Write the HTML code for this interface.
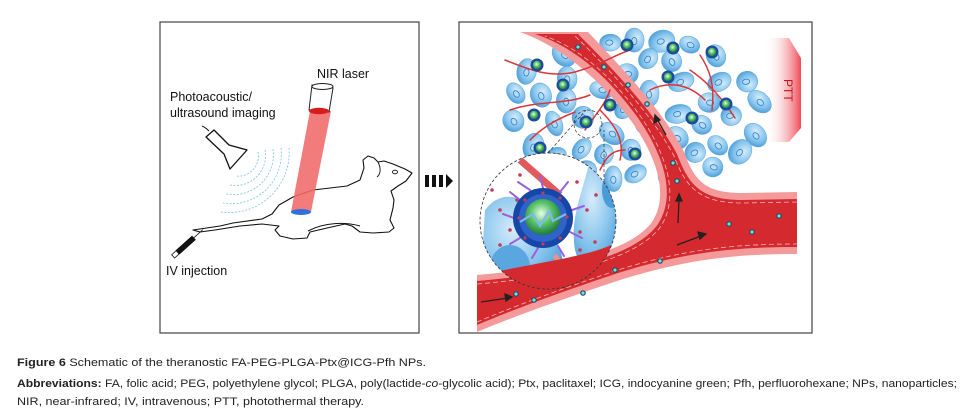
<!DOCTYPE html>
<html><head><meta charset="utf-8"><style>
html,body{margin:0;padding:0;background:#fff;}
svg{display:block}
</style></head><body>
<svg id="s" width="963" height="415" viewBox="0 0 963 415" xmlns="http://www.w3.org/2000/svg">
<defs>
<radialGradient id="cell" cx="40%" cy="35%" r="70%"><stop offset="0" stop-color="#d6ecfb"/><stop offset="0.6" stop-color="#86c4ec"/><stop offset="1" stop-color="#4a9bd8"/></radialGradient>
<radialGradient id="np" cx="45%" cy="40%" r="60%"><stop offset="0" stop-color="#e8ffe8"/><stop offset="0.5" stop-color="#5cc46a"/><stop offset="1" stop-color="#1f7a3a"/></radialGradient>
<linearGradient id="ptt" x1="0" x2="1"><stop offset="0" stop-color="#fff" stop-opacity="0"/><stop offset="1" stop-color="#ef4b55"/></linearGradient>
<clipPath id="mag"><circle cx="548" cy="221" r="68"/></clipPath>
<clipPath id="box"><rect x="460" y="23" width="351" height="309"/></clipPath>
</defs>
<rect width="963" height="415" fill="#fff"/>
<!-- left panel -->
<rect x="160" y="22" width="259" height="311" fill="#fff" stroke="#444" stroke-width="1.2"/>
<text x="317" y="78" font-family="Liberation Sans,sans-serif" font-size="12.5" fill="#111">NIR laser</text>
<text x="170" y="101" font-family="Liberation Sans,sans-serif" font-size="12.5" fill="#111">Photoacoustic/</text>
<text x="170" y="117" font-family="Liberation Sans,sans-serif" font-size="12.5" fill="#111">ultrasound imaging</text>
<text x="166" y="275" font-family="Liberation Sans,sans-serif" font-size="12.5" fill="#111">IV injection</text>
<g fill="none" stroke="#7fc3d8" stroke-width="0.8" stroke-dasharray="2,1.5">
<path d="M258,152 A20,20 0 0 1 236,176"/>
<path d="M265,150 A30,30 0 0 1 230,185"/>
<path d="M273,149 A40,40 0 0 1 226,194"/>
<path d="M281,148 A50,50 0 0 1 223,203"/>
<path d="M289,148 A60,60 0 0 1 221,212"/>
</g>
<path d="M202,126 C205,127 207,129 209,131" fill="none" stroke="#111" stroke-width="1"/>
<path d="M206,137 L214,130 L229,145 L247,150 L230,169 L224,154 Z" fill="#fff" stroke="#111" stroke-width="1.3" stroke-linejoin="round"/>
<path d="M193,230 L220,226 L233,223 L262,219 L272,214 L279,205 L293,197 L313,190 L347,186 L360,180 L364,168 L363,160 L368,156 L374,158 L378,162 L384,161 L393,164 L405,169 L412,173 L406,181 L398,186 L391,191 L394,200 L393,208 L390,220 L394,228 L389,232 L373,233 L360,232 L352,226 L345,224 L327,228 L310,232 L307,238 L293,239 L280,236 L275,230 L279,226 L262,224 L240,226 L215,230 L200,232 Z" fill="none" stroke="#111" stroke-width="1.1" stroke-linejoin="round"/>
<path d="M308,231 C325,222 345,222 360,226" fill="none" stroke="#111" stroke-width="1"/>
<ellipse cx="395" cy="172" rx="2.5" ry="1.8" fill="none" stroke="#111" stroke-width="0.9"/>
<path d="M378,162 C381,168 381,174 377,177" fill="none" stroke="#111" stroke-width="0.9"/>
<polygon points="310,111 331,111 311,212 291,212" fill="#f06a6a" opacity="0.88"/>
<path d="M312,85 L333,88 L329,112 L309,110 Z" fill="#fff" stroke="#222" stroke-width="1"/>
<ellipse cx="322.5" cy="86.5" rx="10.5" ry="3" fill="#fff" stroke="#222" stroke-width="1"/>
<ellipse cx="319" cy="111" rx="10" ry="3.2" fill="#d81b1b"/>
<ellipse cx="301" cy="212" rx="10" ry="3" fill="#2f6fe0"/>
<g transform="translate(188,243) rotate(-42)">
<rect x="-14" y="-2.8" width="22" height="5.6" fill="#111"/>
<rect x="-20" y="-2.2" width="6" height="4.4" fill="#fff" stroke="#111" stroke-width="0.8"/>
<line x1="8" y1="0" x2="20" y2="0" stroke="#111" stroke-width="0.8"/>
</g>
<rect x="425" y="175" width="4" height="12" fill="#111"/>
<rect x="432" y="175" width="4" height="12" fill="#111"/>
<rect x="439" y="175" width="4" height="12" fill="#111"/>
<polygon points="446,174 453,181 446,188" fill="#111"/>
<!-- right panel -->
<rect x="459" y="22" width="353" height="311" fill="#fff" stroke="#444" stroke-width="1.2"/>
<polygon points="765,38 789,38 801,58 801,128 789,142 765,142" fill="url(#ptt)"/>
<text transform="translate(784,79) rotate(90)" font-family="Liberation Sans,sans-serif" font-size="12" fill="#c0141e">PTT</text>
<g clip-path="url(#box)">
<g id="cells"></g>
<path d="M477,275 C560,268 630,252 652,222 C668,198 660,162 632,122 C604,84 565,48 520,32 L588,32 C622,68 664,112 684,152 C694,178 702,193 742,193 L797,192 L797,254 C740,254 690,258 620,280 C560,300 510,318 477,332 Z" fill="#f49a9a"/>
<path d="M477,281 C562,274 636,256 658,224 C675,198 667,160 638,118 C612,82 578,48 535,34 L578,34 C614,70 656,114 677,154 C688,182 698,200 742,200 L797,199 L797,247 C740,247 688,251 618,273 C558,293 510,311 477,325 Z" fill="#d42a2f"/>
<g fill="none" stroke="#f6b3b3" stroke-width="0.8" stroke-dasharray="5,3">
<path d="M477,284 C562,277 638,259 661,226 C678,199 670,160 641,117 C616,82 584,50 545,36"/>
<path d="M797,202 L742,203 C696,203 685,184 674,156 C653,116 612,72 575,36"/>
<path d="M477,322 C510,308 558,290 618,270 C688,248 740,244 797,244"/>
</g>
</g>
<g fill="none" stroke="#d9363c" stroke-width="1.5" stroke-linecap="round">
<path d="M505,60 C530,70 550,78 575,72 C600,65 615,55 630,50"/>
<path d="M510,110 C540,100 565,105 590,95"/>
<path d="M585,130 C595,115 605,105 610,90"/>
<path d="M620,160 C625,140 615,125 600,110"/>
<path d="M690,70 C705,80 720,95 735,118"/>
<path d="M700,55 C710,70 715,85 712,110"/>
<path d="M650,90 C670,80 690,85 705,100"/>
<path d="M530,140 C545,125 560,118 575,112"/>
<path d="M600,170 C605,160 610,150 625,150"/>
</g>
<g id="nps"></g>
<g id="dots"></g>
<g stroke="#222" stroke-width="1.3" fill="#222">
<line x1="481" y1="302" x2="508" y2="298"/><polygon points="512,297 505,294 506,301"/>
<line x1="677" y1="245" x2="701" y2="236"/><polygon points="706,234 698,232 700,239"/>
<line x1="678" y1="223" x2="679" y2="199"/><polygon points="679,194 676,201 682,201"/>
<line x1="666" y1="135" x2="657" y2="119"/><polygon points="655,115 654,123 660,120"/>
</g>
<line x1="548" y1="153" x2="586" y2="110" stroke="#333" stroke-width="0.7" stroke-dasharray="3,2"/>
<line x1="604" y1="182" x2="604" y2="130" stroke="#333" stroke-width="0.7" stroke-dasharray="3,2"/>
<circle cx="588" cy="124" r="14" fill="none" stroke="#333" stroke-width="0.7" stroke-dasharray="3,2"/>
<g clip-path="url(#mag)">
<circle cx="548" cy="221" r="68" fill="#fff"/>
<path d="M485,210 C500,190 520,195 540,210 C560,240 570,270 560,290 L480,290 Z" fill="url(#cell)"/>
<path d="M590,160 C620,170 625,230 615,260 C600,280 580,270 575,250 C570,220 580,200 590,160 Z" fill="url(#cell)"/>
<ellipse cx="510" cy="267" rx="20" ry="22" fill="#5aa7e0"/>
<ellipse cx="612" cy="190" rx="10" ry="18" fill="#4a9bd8"/>
<line x1="520" y1="160" x2="560" y2="195" stroke="#e0595c" stroke-width="7"/>
<line x1="555" y1="255" x2="575" y2="290" stroke="#e9918f" stroke-width="5"/>
<path d="M480,275 C540,262 600,255 620,240 L620,300 L480,300 Z" fill="#d42a2f"/>
<g fill="#c33c5a">
<circle cx="492" cy="190" r="1.8"/><circle cx="500" cy="210" r="1.8"/><circle cx="517" cy="200" r="1.8"/><circle cx="520" cy="175" r="1.8"/><circle cx="577" cy="182" r="1.8"/><circle cx="587" cy="210" r="1.8"/><circle cx="596" cy="195" r="1.8"/><circle cx="595" cy="242" r="1.8"/><circle cx="580" cy="250" r="1.8"/><circle cx="500" cy="245" r="1.8"/><circle cx="510" cy="230" r="1.8"/><circle cx="580" cy="232" r="1.8"/>
</g>
</g>
<circle cx="548" cy="221" r="68" fill="none" stroke="#333" stroke-width="0.8" stroke-dasharray="3,2"/>
<g stroke="#9b5fe0" stroke-width="2" stroke-linecap="round">
<line x1="543" y1="188" x2="540" y2="176"/><line x1="560" y1="192" x2="568" y2="182"/><line x1="572" y1="210" x2="584" y2="206"/><line x1="570" y1="232" x2="582" y2="238"/><line x1="558" y1="246" x2="564" y2="256"/><line x1="538" y1="248" x2="532" y2="258"/><line x1="520" y1="238" x2="510" y2="244"/><line x1="514" y1="218" x2="503" y2="214"/><line x1="520" y1="200" x2="510" y2="192"/><line x1="530" y1="190" x2="518" y2="182"/>
</g>
<circle cx="543" cy="218" r="30" fill="#1646a8"/>
<circle cx="543" cy="218" r="24" fill="#2f63c8"/>
<circle cx="543" cy="217" r="18" fill="url(#np)"/>
<path d="M520,222 L533,214 L540,226 L549,211 L553,221 L566,214" fill="none" stroke="#7fb7f0" stroke-width="2.2"/>
<g fill="#c33c5a"><circle cx="543" cy="193" r="1.6"/><circle cx="560" cy="198" r="1.6"/><circle cx="567" cy="217" r="1.6"/><circle cx="560" cy="238" r="1.6"/><circle cx="543" cy="244" r="1.6"/><circle cx="525" cy="238" r="1.6"/><circle cx="519" cy="218" r="1.6"/><circle cx="525" cy="200" r="1.6"/></g>
<text x="17" y="366" font-family="Liberation Sans,sans-serif" font-size="11" fill="#222" textLength="409" lengthAdjust="spacingAndGlyphs"><tspan font-weight="bold">Figure 6</tspan> Schematic of the theranostic FA-PEG-PLGA-Ptx@ICG-Pfh NPs.</text>
<text x="17" y="387" font-family="Liberation Sans,sans-serif" font-size="11" fill="#222" textLength="940" lengthAdjust="spacingAndGlyphs"><tspan font-weight="bold">Abbreviations:</tspan> FA, folic acid; PEG, polyethylene glycol; PLGA, poly(lactide-<tspan font-style="italic">co</tspan>-glycolic acid); Ptx, paclitaxel; ICG, indocyanine green; Pfh, perfluorohexane; NPs, nanoparticles;</text>
<text x="17" y="405" font-family="Liberation Sans,sans-serif" font-size="11" fill="#222" textLength="347" lengthAdjust="spacingAndGlyphs">NIR, near-infrared; IV, intravenous; PTT, photothermal therapy.</text>
</svg>
<script>
(function(){
var ns="http://www.w3.org/2000/svg";
function el(t,a,p){var e=document.createElementNS(ns,t);for(var k in a)e.setAttribute(k,a[k]);p.appendChild(e);return e;}
var seed=11;function r(){seed=(seed*16807)%2147483647;return (seed-1)/2147483646;}
var g=document.getElementById('cells');
var pts=[],tries=0;
while(pts.length<70&&tries<6000){tries++;
var x=505+r()*255,y=40+r()*145;
var dx=(x-635)/130,dy=(y-108)/76;
if(dx*dx+dy*dy>1)continue;
var ok=true;for(var i=0;i<pts.length;i++){var a=pts[i][0]-x,b=pts[i][1]-y;if(a*a+b*b<22*22){ok=false;break;}}
if(!ok)continue;
pts.push([x,y]);
var rx=10+r()*4,ry=8+r()*3,rot=r()*180;
var c=el('g',{transform:'translate('+x.toFixed(1)+','+y.toFixed(1)+') rotate('+rot.toFixed(0)+')'},g);
el('ellipse',{cx:0,cy:0,rx:rx,ry:ry,fill:'url(#cell)',stroke:'#5aa5dc','stroke-width':0.5},c);
el('ellipse',{cx:1,cy:0,rx:3.6,ry:2.6,fill:'#b5dcf7',stroke:'#2f7fc4','stroke-width':0.8},c);
}
var np=[[537,65],[627,45],[673,48],[712,52],[563,85],[668,77],[610,105],[534,115],[586,122],[692,118],[726,104],[540,148],[635,154]];
var G=document.getElementById('nps');
np.forEach(function(p){
el('circle',{cx:p[0],cy:p[1],r:6.5,fill:'#1c4aa0'},G);
el('circle',{cx:p[0],cy:p[1],r:4.2,fill:'url(#np)'},G);
});
var d=[[578,47],[604,67],[628,85],[647,104],[673,163],[677,181],[729,224],[752,232],[779,216],[660,261],[615,270],[583,293],[516,294],[534,300]];
var D=document.getElementById('dots');
d.forEach(function(p){
el('circle',{cx:p[0],cy:p[1],r:2.8,fill:'#1f4e66'},D);
el('circle',{cx:p[0],cy:p[1],r:1.6,fill:'#6fe3e0'},D);
});
})();
</script>
</body></html>
